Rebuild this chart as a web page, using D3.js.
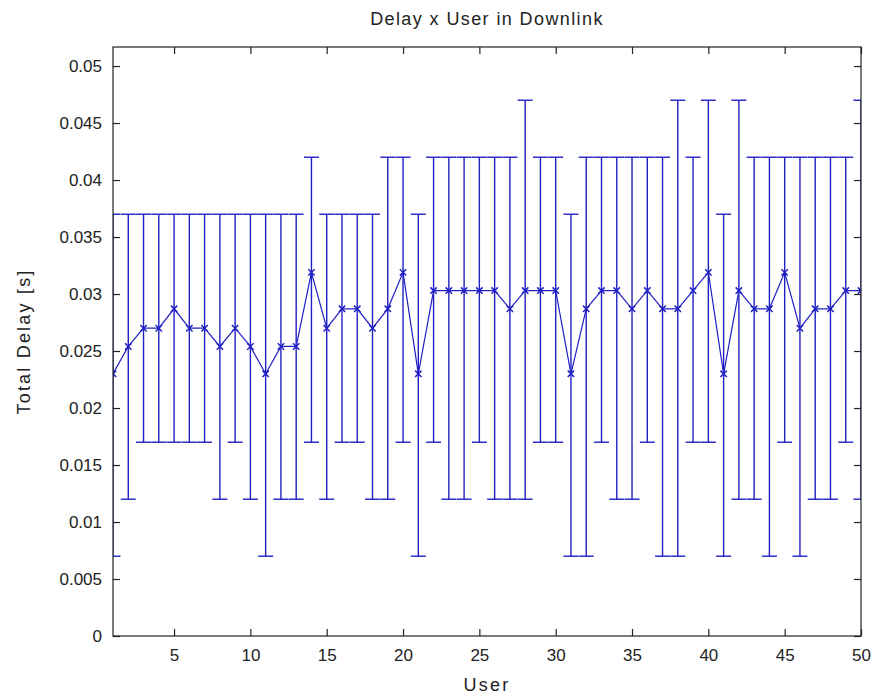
<!DOCTYPE html>
<html><head><meta charset="utf-8">
<script src="https://cdn.jsdelivr.net/npm/d3@7"></script>
<style>body{margin:0;background:#fff}svg text{font-family:"Liberation Sans",Arial,sans-serif}</style>
</head><body><svg id="c" width="874" height="698"></svg>
<script>
const users = d3.range(1, 51);
const meanDelay = [0.0230,0.0254,0.0270,0.0270,0.0287,0.0270,0.0270,0.0254,0.0270,0.0254,
  0.0230,0.0254,0.0254,0.0319,0.0270,0.0287,0.0287,0.0270,0.0287,0.0319,
  0.0230,0.0303,0.0303,0.0303,0.0303,0.0303,0.0287,0.0303,0.0303,0.0303,
  0.0230,0.0287,0.0303,0.0303,0.0287,0.0303,0.0287,0.0287,0.0303,0.0319,
  0.0230,0.0303,0.0287,0.0287,0.0319,0.0270,0.0287,0.0287,0.0303,0.0303];
const upperDelay = [0.037,0.037,0.037,0.037,0.037,0.037,0.037,0.037,0.037,0.037,
  0.037,0.037,0.037,0.042,0.037,0.037,0.037,0.037,0.042,0.042,
  0.037,0.042,0.042,0.042,0.042,0.042,0.042,0.047,0.042,0.042,
  0.037,0.042,0.042,0.042,0.042,0.042,0.042,0.047,0.042,0.047,
  0.037,0.047,0.042,0.042,0.042,0.042,0.042,0.042,0.042,0.047];
const lowerDelay = [0.007,0.012,0.017,0.017,0.017,0.017,0.017,0.012,0.017,0.012,
  0.007,0.012,0.012,0.017,0.012,0.017,0.017,0.012,0.012,0.017,
  0.007,0.017,0.012,0.012,0.017,0.012,0.012,0.012,0.017,0.017,
  0.007,0.007,0.017,0.012,0.012,0.017,0.007,0.007,0.017,0.017,
  0.007,0.012,0.012,0.007,0.017,0.007,0.012,0.012,0.017,0.012];
const xTicks = [5,10,15,20,25,30,35,40,45,50];
const yTicks = [0,0.005,0.01,0.015,0.02,0.025,0.03,0.035,0.04,0.045,0.05];

const L = 113, R = 861, T = 47, B = 636;
const svg = d3.select("#c");
const x = d3.scaleLinear().domain([1, 50]).range([L, R]);
const y = d3.scaleLinear().domain([0, 0.05167]).range([B, T]);
const col = "#2020c4";

svg.append("defs").append("clipPath").attr("id","clip")
  .append("rect").attr("x",L).attr("y",T).attr("width",R-L).attr("height",B-T);

const g = svg.append("g").attr("clip-path","url(#clip)");
const data = users.map((u,i)=>({u, m:meanDelay[i], lo:lowerDelay[i], hi:upperDelay[i]}));
const tee = 0.49;
data.forEach(d=>{
  g.append("line").attr("x1",x(d.u)).attr("x2",x(d.u)).attr("y1",y(d.lo)).attr("y2",y(d.hi))
    .attr("stroke",col).attr("stroke-width",1.4);
  [d.lo,d.hi].forEach(v=>g.append("line").attr("x1",x(d.u-tee)).attr("x2",x(d.u+tee))
    .attr("y1",y(v)).attr("y2",y(v)).attr("stroke",col).attr("stroke-width",1.4));
});
g.append("path").datum(data)
  .attr("d", d3.line().x(d=>x(d.u)).y(d=>y(d.m)))
  .attr("fill","none").attr("stroke",col).attr("stroke-width",1.2);
const ms = 3.2;
data.forEach(d=>{
  g.append("path").attr("d",`M${x(d.u)-ms},${y(d.m)-ms}L${x(d.u)+ms},${y(d.m)+ms}M${x(d.u)-ms},${y(d.m)+ms}L${x(d.u)+ms},${y(d.m)-ms}`)
    .attr("stroke",col).attr("stroke-width",1.5);
});

// frame
svg.append("rect").attr("x",L).attr("y",T).attr("width",R-L).attr("height",B-T)
  .attr("fill","none").attr("stroke","#222").attr("stroke-width",1.2);

const ax = svg.append("g").attr("transform",`translate(0,${B})`)
  .call(d3.axisBottom(x).tickValues(xTicks).tickSize(-7).tickPadding(13).tickSizeOuter(0));
const axT = svg.append("g").attr("transform",`translate(0,${T})`)
  .call(d3.axisTop(x).tickValues(xTicks).tickSize(-7).tickFormat("").tickSizeOuter(0));
const ay = svg.append("g").attr("transform",`translate(${L},0)`)
  .call(d3.axisLeft(y).tickValues(yTicks).tickSize(-7).tickPadding(11).tickSizeOuter(0)
    .tickFormat(d=>d===0?"0":String(+d.toFixed(3))));
const ayR = svg.append("g").attr("transform",`translate(${R},0)`)
  .call(d3.axisRight(y).tickValues(yTicks).tickSize(-7).tickFormat("").tickSizeOuter(0));
[ax,axT,ay,ayR].forEach(a=>{
  a.select(".domain").remove();
  a.selectAll("line").attr("stroke","#222").attr("stroke-width",1.2);
  a.selectAll("text").attr("font-size",17).attr("fill","#222")
    .attr("font-family","'Liberation Sans',Arial,sans-serif");
});
ax.selectAll("text").attr("dy","0.71em");

svg.append("text").attr("x",(L+R)/2).attr("y",25).attr("text-anchor","middle")
  .attr("font-size",18).attr("letter-spacing",1.4).attr("fill","#222").text("Delay x User in Downlink");
svg.append("text").attr("x",(L+R)/2).attr("y",691).attr("text-anchor","middle")
  .attr("font-size",18).attr("letter-spacing",2.2).attr("fill","#222").text("User");
svg.append("text").attr("transform",`translate(30,${(T+B)/2}) rotate(-90)`).attr("text-anchor","middle")
  .attr("font-size",18).attr("letter-spacing",2.2).attr("fill","#222").text("Total Delay [s]");
</script></body></html>
